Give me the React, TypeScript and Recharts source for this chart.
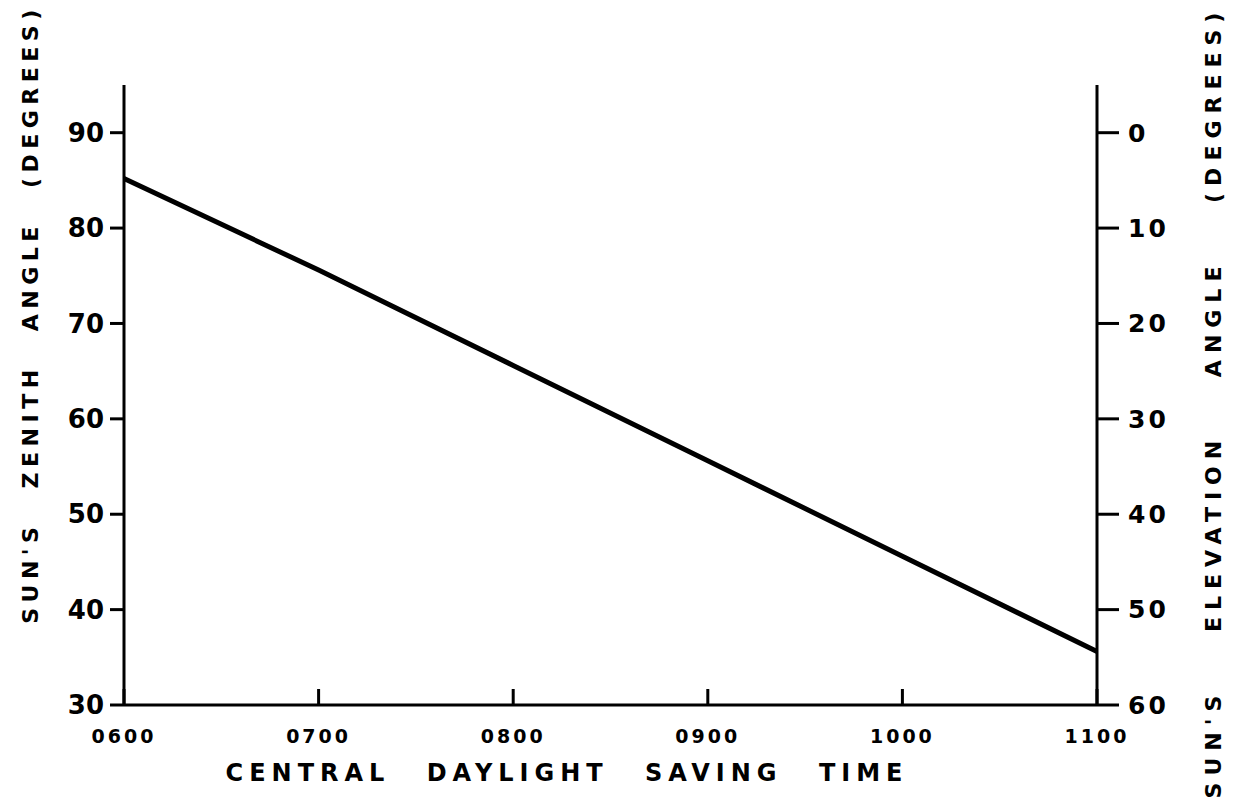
import { LineChart, Line, XAxis, YAxis, Label } from 'recharts';

const times = ['0600', '0700', '0800', '0900', '1000', '1100'];
const zenithAngle = [85.2, 75.6, 65.6, 55.6, 45.6, 35.6];
const zenithTicks = [30, 40, 50, 60, 70, 80, 90];
const elevationTicks = [0, 10, 20, 30, 40, 50, 60];

const data = times.map((t, i) => ({ time: t, zenith: zenithAngle[i] }));

const FONT = '"DejaVu Sans", sans-serif';

function TimeTick(props: any) {
  const { x, y, payload } = props;
  return (
    <g>
      <line x1={x} y1={y} x2={x} y2={y - 16} stroke="#000" strokeWidth={3} />
      <text
        x={x}
        y={y + 31}
        textAnchor="middle"
        dominantBaseline="central"
        fontFamily={FONT}
        fontWeight={700}
        fontSize={19}
        letterSpacing={3}
        fill="#000"
      >
        {payload.value}
      </text>
    </g>
  );
}

function VerticalTitle({ cx, cy, text, letterSpacing, wordSpacing }: any) {
  return (
    <text
      x={cx}
      y={cy}
      transform={`rotate(-90 ${cx} ${cy})`}
      textAnchor="middle"
      dominantBaseline="central"
      fontFamily={FONT}
      fontWeight={700}
      fontSize={22}
      fill="#000"
      style={{ letterSpacing, wordSpacing }}
    >
      {text}
    </text>
  );
}

export default function App() {
  return (
    <div style={{ width: 1238, height: 798, background: '#fff' }}>
      <style>{'body{margin:0}'}</style>
      <LineChart
        width={1238}
        height={798}
        data={data}
        margin={{ top: 85, right: 61, bottom: 33, left: 54 }}
      >
        <XAxis
          dataKey="time"
          height={60}
          axisLine={{ stroke: '#000', strokeWidth: 3 }}
          tickLine={false}
          tickSize={0}
          tickMargin={0}
          tick={<TimeTick />}
          interval={0}
        >
          <Label
            content={() => (
              <text
                x={567}
                y={773}
                textAnchor="middle"
                dominantBaseline="central"
                fontFamily={FONT}
                fontWeight={700}
                fontSize={24}
                fill="#000"
                style={{ letterSpacing: 6, wordSpacing: 22 }}
              >
                CENTRAL DAYLIGHT SAVING TIME
              </text>
            )}
          />
        </XAxis>
        <YAxis
          yAxisId="left"
          width={70}
          domain={[30, 95]}
          allowDataOverflow
          ticks={zenithTicks}
          axisLine={{ stroke: '#000', strokeWidth: 3 }}
          tickLine={{ stroke: '#000', strokeWidth: 3 }}
          tickSize={14}
          tickMargin={6}
          tick={{ fontSize: 26, fontWeight: 700, fill: '#000', fontFamily: FONT }}
        >
          <Label
            content={() => (
              <VerticalTitle
                cx={30}
                cy={314}
                text="SUN'S ZENITH ANGLE (DEGREES)"
                letterSpacing={5.5}
                wordSpacing={20}
              />
            )}
          />
        </YAxis>
        <YAxis
          yAxisId="right"
          orientation="right"
          width={80}
          domain={[-5, 60]}
          reversed
          allowDataOverflow
          ticks={elevationTicks}
          axisLine={{ stroke: '#000', strokeWidth: 3 }}
          tickLine={{ stroke: '#000', strokeWidth: 3 }}
          tickSize={22}
          tickMargin={9}
          tick={{ fontSize: 25, fontWeight: 700, fill: '#000', fontFamily: FONT, letterSpacing: 3 }}
        >
          <Label
            content={() => (
              <VerticalTitle
                cx={1213}
                cy={402}
                text="SUN'S ELEVATION ANGLE (DEGREES)"
                letterSpacing={7}
                wordSpacing={42}
              />
            )}
          />
        </YAxis>
        <Line
          yAxisId="left"
          type="linear"
          dataKey="zenith"
          stroke="#000"
          strokeWidth={5}
          dot={false}
          isAnimationActive={false}
        />
      </LineChart>
    </div>
  );
}
